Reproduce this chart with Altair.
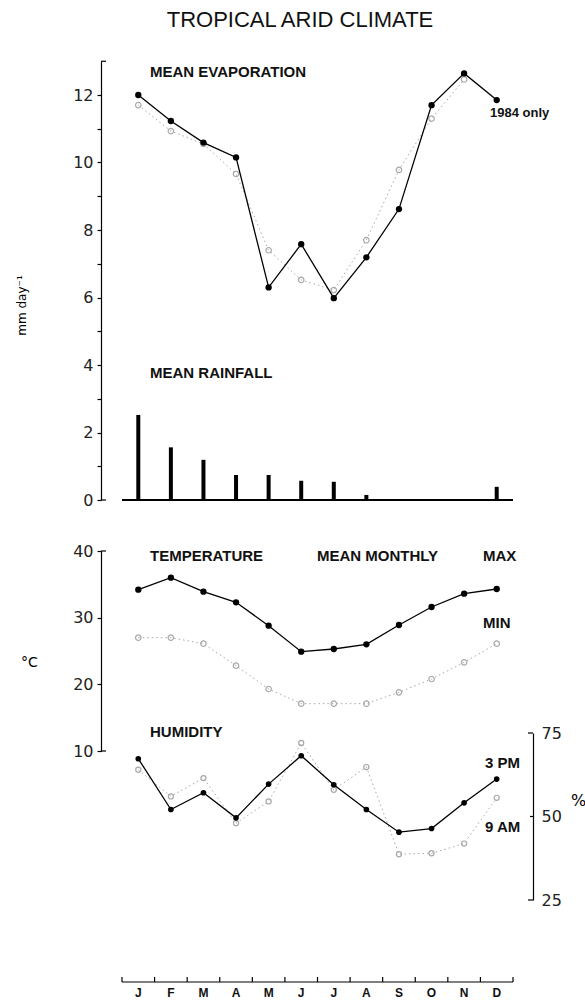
import altair as alt
import pandas as pd

# Monthly values, January to December
months = ["J", "F", "M", "A", "M", "J", "J", "A", "S", "O", "N", "D"]
evap_mean = [12.0, 11.23, 10.59, 10.15, 6.30, 7.58, 5.98, 7.19, 8.62, 11.70, 12.64, 11.85]
evap_other = [11.70, 10.93, 10.55, 9.66, 7.40, 6.52, 6.22, 7.70, 9.78, 11.30, 12.46, None]
rain = [2.52, 1.56, 1.19, 0.74, 0.74, 0.57, 0.54, 0.15, 0.0, 0.0, 0.0, 0.39]
temp_max = [34.2, 36.0, 33.9, 32.3, 28.8, 24.9, 25.3, 26.0, 28.9, 31.6, 33.6, 34.3]
temp_min = [27.0, 27.0, 26.1, 22.8, 19.3, 17.1, 17.1, 17.1, 18.8, 20.8, 23.3, 26.1]
hum_3pm = [67.3, 52.1, 57.1, 49.6, 59.7, 68.2, 59.5, 52.1, 45.3, 46.4, 54.1, 61.2]
hum_9am = [64.0, 56.0, 61.5, 48.0, 54.5, 72.0, 58.0, 64.8, 38.7, 39.0, 41.9, 55.6]

df = pd.DataFrame({
    "m": list(range(12)),
    "month": months,
    "evap": evap_mean,
    "evap_other": evap_other,
    "rain": rain,
    "zero": [0.0] * 12,
    "tmax": temp_max,
    "tmin": temp_min,
    "h3": hum_3pm,
    "h9": hum_9am,
})

W, H = 432, 942
SANS = "Liberation Sans"
NUM = "DejaVu Sans"
GREY = "#a8a8a8"

# Shared month scale; each panel stacks on its own y scale
x_scale = alt.Scale(domain=[-0.5, 11.5], range=[16, 417], nice=False, zero=False)
evap_y = alt.Scale(domain=[0, 13], range=[460, 21.25], nice=False, zero=False)
temp_y = alt.Scale(domain=[10, 40], range=[711, 511], nice=False, zero=False)
hum_y = alt.Scale(domain=[25, 75], range=[860, 693], nice=False, zero=False)

X = alt.X("m:Q", scale=x_scale, axis=None)

evap_axis = alt.Axis(
    orient="left", values=list(range(13)), tickSize=4, labelPadding=4,
    labelExpr="datum.value % 2 == 0 ? datum.label : ''",
    title="mm day⁻¹", titleFont=NUM, titleFontSize=12, titleFontWeight="normal",
    titleAngle=270, titleX=-80, titleY=265, titleAlign="center", titleBaseline="middle")
temp_axis = alt.Axis(
    orient="left", values=[10, 20, 30, 40], tickSize=4, labelPadding=4,
    title="°C", titleFont=NUM, titleFontSize=14, titleFontWeight="normal",
    titleAngle=0, titleX=-72, titleY=622, titleAlign="center", titleBaseline="middle")
hum_axis = alt.Axis(
    orient="right", values=[25, 50, 75], ticks=False, labelPadding=8,
    title="%", titleFont=NUM, titleFontSize=16, titleFontWeight="normal",
    titleAngle=0, titleX=45, titleY=760, titleAlign="center", titleBaseline="middle")

base = alt.Chart(df)


def solid(field, scale, axis=None, size=40):
    y = alt.Y(f"{field}:Q", scale=scale, axis=axis)
    line = base.mark_line(color="black", strokeWidth=1.3).encode(x=X, y=y)
    pts = base.mark_circle(color="black", opacity=1, size=size).encode(
        x=X, y=alt.Y(f"{field}:Q", scale=scale, axis=None))
    return [line, pts]


def dotted(field, scale, size=30):
    y = alt.Y(f"{field}:Q", scale=scale, axis=None)
    line = base.mark_line(color=GREY, strokeWidth=1, strokeDash=[1.5, 3]).encode(x=X, y=y)
    pts = base.mark_point(shape="circle", filled=False, color=GREY, strokeWidth=1.2,
                          size=size, opacity=1).encode(x=X, y=y)
    return [line, pts]


def brackets(values, scale, x0, x1):
    return alt.Chart(pd.DataFrame({"v": values})).mark_rule(
        color="black", strokeWidth=1.2).encode(
        y=alt.Y("v:Q", scale=scale, axis=None), x=alt.value(x0), x2=alt.value(x1))


def note(label, x, y, size=15, weight="bold", align="left", font=SANS):
    return alt.Chart(pd.DataFrame({"t": [label]})).mark_text(
        align=align, baseline="middle", fontSize=size, fontWeight=weight,
        font=font, color="#111").encode(x=alt.value(x), y=alt.value(y), text="t:N")


# Rainfall sticks and their baseline
rain_bars = base.mark_bar(size=4, color="black").encode(
    x=X, y=alt.Y("rain:Q", scale=evap_y, axis=None), y2="zero:Q")
rain_base = alt.Chart(pd.DataFrame({"a": [-0.5], "b": [11.5], "v": [0.0]})).mark_rule(
    color="black", strokeWidth=2).encode(
    x=alt.X("a:Q", scale=x_scale, axis=None), x2="b:Q",
    y=alt.Y("v:Q", scale=evap_y, axis=None))

# Month axis: baseline, boundary ticks and month initials
month_line = alt.Chart(pd.DataFrame({"a": [-0.5], "b": [11.5]})).mark_rule(
    color="black", strokeWidth=1.2).encode(
    x=alt.X("a:Q", scale=x_scale, axis=None), x2="b:Q", y=alt.value(H))
month_ticks = alt.Chart(pd.DataFrame({"b": [i - 0.5 for i in range(13)]})).mark_rule(
    color="black", strokeWidth=1.2).encode(
    x=alt.X("b:Q", scale=x_scale, axis=None), y=alt.value(H - 5), y2=alt.value(H))
month_labels = base.mark_text(
    baseline="middle", align="center", font=SANS, fontWeight="bold", fontSize=12,
    color="#111").encode(x=X, y=alt.value(H + 11), text="month:N")

layers = (
    [rain_bars, rain_base, month_line, month_ticks, month_labels]
    + dotted("evap_other", evap_y)
    + solid("evap", evap_y, evap_axis)
    + dotted("tmin", temp_y)
    + solid("tmax", temp_y, temp_axis)
    + dotted("h9", hum_y, size=26)
    + solid("h3", hum_y, hum_axis, size=32)
    + [
        brackets([0, 13], evap_y, 0, 5),
        brackets([10, 40], temp_y, 0, 5),
        brackets([25, 75], hum_y, W - 5, W),
        brackets([50], hum_y, W - 3, W),
        note("TROPICAL ARID CLIMATE", 199, -20, size=22, weight="normal", align="center"),
        note("MEAN EVAPORATION", 49, 32),
        note("1984 only", 389, 73, size=13),
        note("MEAN RAINFALL", 49, 333),
        note("TEMPERATURE", 49, 516),
        note("MEAN MONTHLY", 216, 516),
        note("MAX", 382, 516),
        note("MIN", 382, 583),
        note("HUMIDITY", 49, 692),
        note("3 PM", 384, 723),
        note("9 AM", 384, 787),
    ]
)

chart = alt.layer(*layers).resolve_scale(y="independent").properties(
    width=W, height=H,
    autosize=alt.AutoSizeParams(type="none"),
    padding={"left": 101, "top": 40, "right": 52, "bottom": 18},
    background="white",
).configure_axis(
    grid=False, domainColor="black", domainWidth=1.2, tickColor="black", tickWidth=1.2,
    labelFont=NUM, labelFontSize=16, labelColor="#222",
).configure_view(strokeWidth=0)

chart.save("out.html", embed_options={"renderer": "svg", "actions": False})
